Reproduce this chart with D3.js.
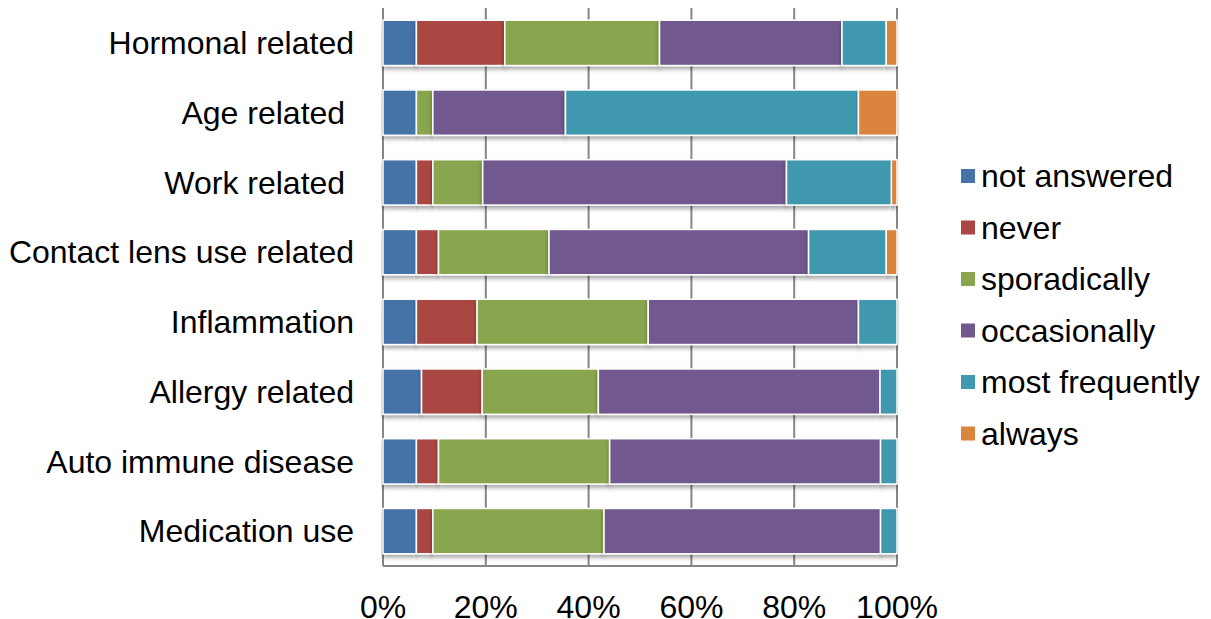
<!DOCTYPE html>
<html>
<head>
<meta charset="utf-8">
<script src="https://cdn.jsdelivr.net/npm/d3@7"></script>
<style>
  body { margin: 0; background: #fff; }
  text { font-family: "Liberation Sans", Arial, sans-serif; fill: #000; }
</style>
</head>
<body>
<svg id="chart" width="1211" height="619"></svg>
<script>
// categories, top to bottom
const categories = ["Hormonal related", "Age related ", "Work related ", "Contact lens use related",
  "Inflammation", "Allergy related", "Auto immune disease", "Medication use"];
const seriesNames = ["not answered", "never", "sporadically", "occasionally", "most frequently", "always"];
const colors = ["#4572A7", "#AA4643", "#89A54E", "#71588F", "#4198AF", "#DB843D"];

// percentage per category, one array per series
const notAnswered    = [6.5, 6.5, 6.5, 6.5, 6.5, 7.5, 6.5, 6.5];
const never          = [17.2, 0, 3.2, 4.3, 11.8, 11.8, 4.3, 3.2];
const sporadically   = [30.1, 3.2, 9.7, 21.5, 33.3, 22.6, 33.3, 33.3];
const occasionally   = [35.5, 25.8, 59.1, 50.5, 40.9, 54.8, 52.7, 53.8];
const mostFrequently = [8.6, 57.0, 20.4, 15.1, 7.5, 3.3, 3.2, 3.2];
const always         = [2.1, 7.5, 1.1, 2.1, 0, 0, 0, 0];
const xTicks = [0, 20, 40, 60, 80, 100];

const seriesVals = [notAnswered, never, sporadically, occasionally, mostFrequently, always];
const rows = categories.map((c, i) => {
  const r = {cat: c};
  seriesNames.forEach((s, j) => r[s] = seriesVals[j][i]);
  return r;
});

const svg = d3.select("#chart");
const plotLeft = 383, plotRight = 897, plotTop = 8, plotBottom = 566;
const fontSize = 32;

const x = d3.scaleLinear().domain([0, 100]).range([plotLeft, plotRight]);
const y = d3.scaleBand().domain(categories).range([plotTop, plotBottom]).paddingInner(0.35).paddingOuter(0.175);

const defs = svg.append("defs");
const f = defs.append("filter").attr("id", "shadow").attr("x", "-5%").attr("y", "-20%").attr("width", "110%").attr("height", "160%");
f.append("feDropShadow").attr("dx", 0).attr("dy", 3).attr("stdDeviation", 2)
  .attr("flood-color", "#000").attr("flood-opacity", 0.35);

// gridlines
svg.append("g")
  .selectAll("line")
  .data(xTicks)
  .join("line")
    .attr("x1", d => x(d)).attr("x2", d => x(d))
    .attr("y1", plotTop).attr("y2", plotBottom)
    .attr("stroke", "#868686")
    .attr("stroke-width", 2);

// bottom axis line
svg.append("line")
  .attr("x1", plotLeft).attr("x2", plotRight)
  .attr("y1", plotBottom).attr("y2", plotBottom)
  .attr("stroke", "#868686").attr("stroke-width", 2);

const stack = d3.stack().keys(seriesNames)(rows);

svg.append("g")
  .selectAll("g")
  .data(stack)
  .join("g")
    .attr("fill", (d, i) => colors[i])
  .selectAll("rect")
  .data(d => d.filter(s => s[1] - s[0] > 0))
  .join("rect")
    .attr("x", d => x(d[0]))
    .attr("y", d => y(d.data.cat))
    .attr("width", d => x(d[1]) - x(d[0]))
    .attr("height", y.bandwidth())
    .attr("stroke", "#fff")
    .attr("stroke-width", 1.5)
    .attr("filter", "url(#shadow)");

// category labels
svg.append("g")
  .selectAll("text")
  .data(categories)
  .join("text")
    .attr("x", 354)
    .attr("y", d => y(d) + y.bandwidth() / 2)
    .attr("dy", "0.35em")
    .attr("text-anchor", "end")
    .attr("font-size", fontSize)
    .style("white-space", "pre")
    .text(d => d);

// x tick labels
svg.append("g")
  .selectAll("text")
  .data(xTicks)
  .join("text")
    .attr("x", d => x(d))
    .attr("y", 607)
    .attr("dy", "0.35em")
    .attr("text-anchor", "middle")
    .attr("font-size", fontSize)
    .text(d => d + "%");

// legend
const leg = svg.append("g")
  .selectAll("g")
  .data(seriesNames)
  .join("g")
    .attr("transform", (d, i) => `translate(961, ${176 + i * 51.5})`);
leg.append("rect")
  .attr("x", 0).attr("y", -7)
  .attr("width", 14).attr("height", 14)
  .attr("fill", (d, i) => colors[i]);
leg.append("text")
  .attr("x", 20)
  .attr("dy", "0.35em")
  .attr("font-size", fontSize)
  .text(d => d);
</script>
</body>
</html>
